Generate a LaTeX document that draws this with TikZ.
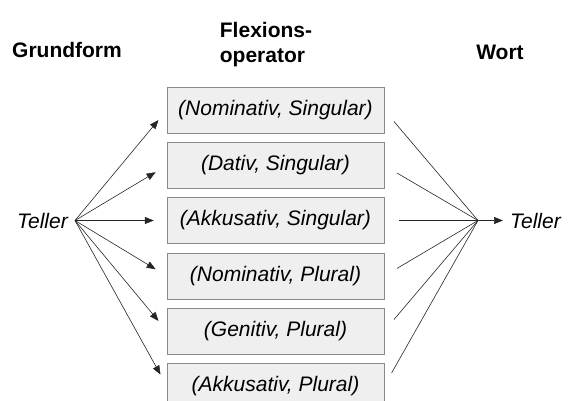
\documentclass[tikz,border=0pt]{standalone}
\usepackage{fontspec}
\setmainfont{Liberation Sans}
\usetikzlibrary{arrows.meta}
\definecolor{boxfill}{HTML}{EFEFEF}
\definecolor{boxline}{HTML}{8A8A8A}
\tikzset{
	kasus/.style={draw=boxline,fill=boxfill,minimum width=217pt,minimum height=46pt,inner sep=0pt,font=\itshape},
	kopf/.style={font=\bfseries,align=left},
	pfeil/.style={-{Triangle[length=9pt,width=7pt]},draw=black!85,line width=0.6pt}
}
\begin{document}
\begin{tikzpicture}[x=1pt,y=-1pt,
	every node/.append style={execute at begin node=\fontsize{21}{25}\selectfont}]
	\useasboundingbox (0,0) rectangle (570,401);
	% Kopfzeile
	\node[kopf] (grundform) at (67,50) {Grundform};
	\node[kopf] (flexop) at (266,45) {Flexions-\\operator};
	\node[kopf] (wort) at (500,52) {Wort};
	% Grundform und Wort
	\node[font=\itshape,anchor=east,inner sep=0pt] (grund) at (75,220.5) {Teller\,\,};
	\coordinate (hub) at (478,220.5);
	\node[font=\itshape,anchor=west,inner sep=0pt] (wortform) at (503,220.5) {\,\,Teller};
	% Flexionsoperatoren
	\node[kasus] (nomsg) at (275.5,110) {(Nominativ, Singular)};
	\node[kasus] (datsg) at (275.5,165.5) {(Dativ, Singular)};
	\node[kasus] (akksg) at (275.5,220.5) {(Akkusativ, Singular)};
	\node[kasus] (nompl) at (275.5,276) {(Nominativ, Plural)};
	\node[kasus] (genpl) at (275.5,331) {(Genitiv, Plural)};
	\node[kasus] (akkpl) at (275.5,386) {(Akkusativ, Plural)};
	\foreach \k in {nomsg,datsg,akksg,nompl,genpl,akkpl}{
		\draw[pfeil,shorten >=13pt] (grund.east) -- (\k.west);
		\draw[draw=black!85,line width=0.6pt,shorten <=15pt] (\k.east) -- (hub);
	}
	\draw[pfeil] (hub) -- (wortform.west);
\end{tikzpicture}
\end{document}
